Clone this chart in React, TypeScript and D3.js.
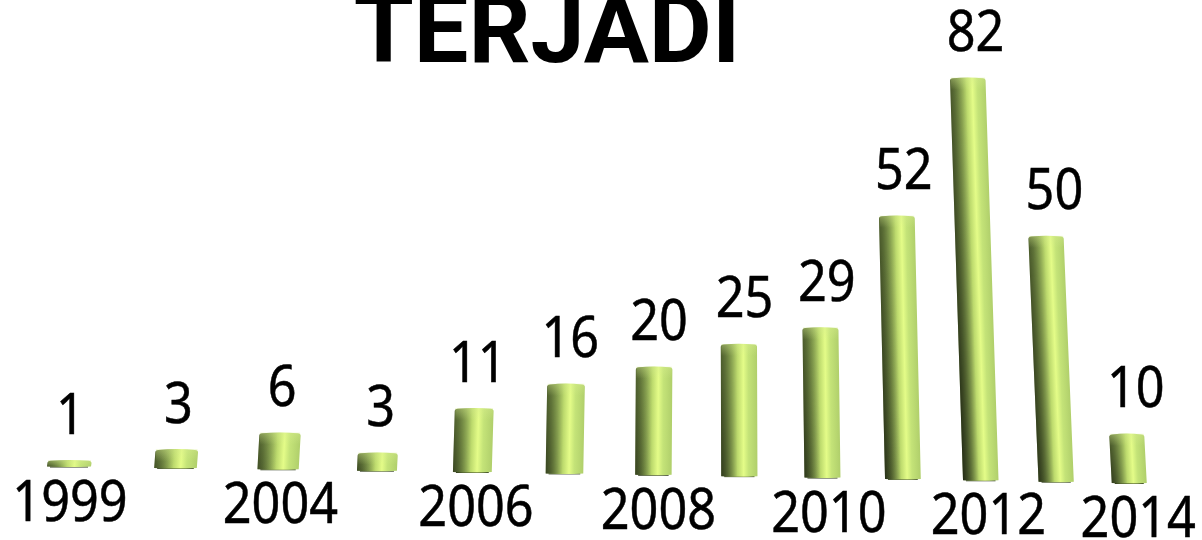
import React from "react";
import * as d3 from "d3";

const title = "TERJADI";
const yearLabels = ["1999", "", "2004", "", "2006", "", "2008", "", "2010", "", "2012", "", "2014"];
const counts = [1, 3, 6, 3, 11, 16, 20, 25, 29, 52, 82, 50, 10];

const W = 1202;
const H = 540;
const indices = counts.map((_, i) => i);

// the floor recedes to the right, so positions come from a small perspective model
const depth = (i: number) => 1 / (1 + 0.019 * i);
const xBase = (i: number) => 69 + 108.5 * i * depth(i);
const yBase = d3.scaleLinear().domain([0, 12]).range([466.5, 483]);
const unitPx = d3.scaleLinear().domain([0, 3, 6, 9, 10, 12]).range([6.3, 6, 5.4, 5.06, 4.91, 4.92]);
const barW = d3.scaleLinear().domain([0, 3, 6, 12]).range([44, 40, 36.5, 35]);
const labelShift = d3.scaleLinear().domain([0, 12]).range([1, 9]);
const shadeEdge = d3.scaleLinear().domain([0, 6, 10, 12]).range([0.38, 0.55, 0.75, 0.6]);
const lean = (x: number) => (x - 710) * 0.000119;

const font = "'Noto Sans', sans-serif";
const digitSqueeze = 0.9;

function geometry(i: number) {
  const h = counts[i] * unitPx(i);
  const x0 = xBase(i);
  const y0 = yBase(i);
  const x1 = x0 + lean(x0) * -h;
  const y1 = y0 - h;
  const w = barW(i);
  return { h, x0, y0, x1, y1, w };
}

function barPath(i: number) {
  const { x0, y0, x1, y1, w, h } = geometry(i);
  const r = Math.min(3, h / 2);
  const p = d3.path();
  p.moveTo(x0 - w / 2, y0);
  p.lineTo(x1 - w / 2, y1 + r);
  p.quadraticCurveTo(x1 - w / 2, y1 + 0.8, x1 - w / 2 + r, y1 + 0.6);
  p.quadraticCurveTo(x1, y1 - 1, x1 + w / 2 - r, y1 + 0.6);
  p.quadraticCurveTo(x1 + w / 2, y1 + 0.8, x1 + w / 2, y1 + r);
  p.lineTo(x0 + w / 2, y0);
  p.quadraticCurveTo(x0, y0 + 1, x0 - w / 2, y0);
  p.closePath();
  return p.toString();
}

// gradient vector runs across the bar, square to its leaning axis
function acrossBar(i: number) {
  const { x0, y0, x1, y1, w, h } = geometry(i);
  const dx = x1 - x0;
  const dy = y1 - y0;
  const len = Math.hypot(dx, dy) || 1;
  const nx = h ? -dy / len : 1;
  const ny = h ? dx / len : 0;
  const cx = (x0 + x1) / 2;
  const cy = (y0 + y1) / 2;
  return {
    x1: cx - (nx * w) / 2,
    y1: cy - (ny * w) / 2,
    x2: cx + (nx * w) / 2,
    y2: cy + (ny * w) / 2,
  };
}

const bodyStops: [number, string][] = [
  [0, "#64793a"],
  [0.12, "#748c45"],
  [0.3, "#98b45a"],
  [0.46, "#bedb6e"],
  [0.62, "#e4fc88"],
  [0.76, "#c4e378"],
  [1, "#b0cf6b"],
];

function Label({ x, y, text, size }: { x: number; y: number; text: string; size: number }) {
  return (
    <text
      transform={`translate(${x},${y}) scale(${digitSqueeze},1)`}
      textAnchor="middle"
      fontFamily={font}
      fontSize={size}
      fill="#000"
      stroke="#000"
      strokeWidth={0.5}
    >
      {text}
    </text>
  );
}

export default function App() {
  return (
    <svg
      width={W}
      height={H}
      viewBox={`0 0 ${W} ${H}`}
      style={{ position: "absolute", left: 0, top: 0, background: "#fff" }}
    >
      <defs>
        <linearGradient id="fadeUp" x1="0" y1="1" x2="0" y2="0">
          <stop offset="0" stopColor="#fff" />
          <stop offset="1" stopColor="#666" />
        </linearGradient>
        <linearGradient id="capGlow" x1="0" y1="0" x2="0" y2="1">
          <stop offset="0" stopColor="#d6ec8e" stopOpacity={0.4} />
          <stop offset="1" stopColor="#d6ec8e" stopOpacity={0} />
        </linearGradient>
        <mask id="fadeMask" maskContentUnits="objectBoundingBox">
          <rect width="1" height="1" fill="url(#fadeUp)" />
        </mask>
        {indices.map((i) => (
          <React.Fragment key={i}>
            <linearGradient id={`body-${i}`} gradientUnits="userSpaceOnUse" {...acrossBar(i)}>
              {bodyStops.map(([o, c]) => (
                <stop key={o} offset={o} stopColor={c} />
              ))}
            </linearGradient>
            <linearGradient id={`shade-${i}`} gradientUnits="userSpaceOnUse" {...acrossBar(i)}>
              <stop offset="0" stopColor="#10140a" stopOpacity={shadeEdge(i)} />
              <stop offset="0.2" stopColor="#10140a" stopOpacity={shadeEdge(i) * 0.6} />
              <stop offset="0.45" stopColor="#10140a" stopOpacity={0} />
            </linearGradient>
          </React.Fragment>
        ))}
      </defs>

      <text
        x={547}
        y={62}
        textAnchor="middle"
        fontFamily="Roboto, sans-serif"
        fontWeight={700}
        fontSize={97}
        fill="#000"
      >
        {title}
      </text>

      {indices.map((i) => {
        const { x0, y0, x1, y1, w, h } = geometry(i);
        const capH = Math.min(12, h);
        return (
          <g key={i}>
            <path
              d={`M${x0 - w / 2 + 3},${y0 + 0.5}L${x0 + w / 2 - 3},${y0 + 0.5}`}
              stroke="#2a3518"
              strokeWidth={1}
            />
            <path d={barPath(i)} fill={`url(#body-${i})`} />
            <g mask="url(#fadeMask)">
              <path d={barPath(i)} fill={`url(#shade-${i})`} />
            </g>
            <rect x={x1 - w / 2 + 0.5} y={y1} width={w - 1} height={capH} fill="url(#capGlow)" />
            <Label x={x1 + labelShift(i)} y={y1 - 26.5} text={String(counts[i])} size={56} />
            {yearLabels[i] && (
              <Label x={x0 + labelShift(i)} y={y0 + 54} text={yearLabels[i]} size={56} />
            )}
          </g>
        );
      })}
    </svg>
  );
}
